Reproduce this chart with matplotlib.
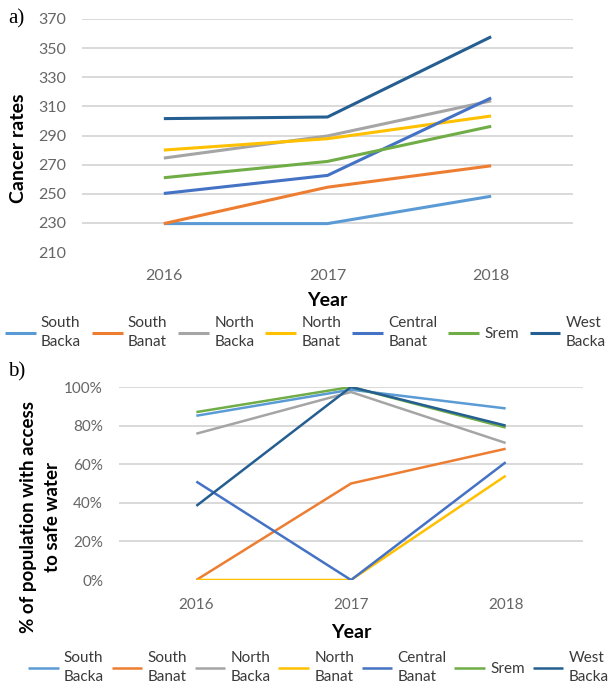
import matplotlib
matplotlib.use("Agg")
import matplotlib.pyplot as plt
import matplotlib.ticker as mticker

plt.rcParams['font.family'] = ['Lato', 'DejaVu Sans']

years = ["2016", "2017", "2018"]
regions = ["South\nBacka", "South\nBanat", "North\nBacka", "North\nBanat",
           "Central\nBanat", "Srem", "West\nBacka"]
colors = ["#5B9BD5", "#ED7D31", "#A5A5A5", "#FFC000", "#4472C4", "#70AD47", "#255E91"]

# Cancer rates per region
cancer_south_backa = [229.5, 229.5, 248.3]
cancer_south_banat = [229.5, 254.5, 269.2]
cancer_north_backa = [274.5, 289.7, 313.8]
cancer_north_banat = [280.0, 287.8, 303.4]
cancer_central_banat = [250.2, 262.6, 315.8]
cancer_srem = [261.0, 272.2, 296.3]
cancer_west_backa = [301.6, 302.7, 357.8]

# Share of population with access to safe water
water_south_backa = [0.851, 0.986, 0.889]
water_south_banat = [0.0, 0.50, 0.68]
water_north_backa = [0.758, 0.974, 0.71]
water_north_banat = [0.0, 0.0, 0.54]
water_central_banat = [0.51, 0.0, 0.61]
water_srem = [0.87, 1.0, 0.79]
water_west_backa = [0.384, 1.0, 0.80]

cancer = [cancer_south_backa, cancer_south_banat, cancer_north_backa, cancer_north_banat,
          cancer_central_banat, cancer_srem, cancer_west_backa]
water = [water_south_backa, water_south_banat, water_north_backa, water_north_banat,
         water_central_banat, water_srem, water_west_backa]

W, H = 611, 688
fig = plt.figure(figsize=(W / 100, H / 100), dpi=100)

def px_axes(x0, x1, ytop, ybot):
    return fig.add_axes([x0 / W, 1 - ybot / H, (x1 - x0) / W, (ybot - ytop) / H])

tick_color = "#666666"
grid_color = "#D9D9D9"
text_color = "#3A3A3A"

def style(ax, xpad, ypad, size):
    for s in ax.spines.values():
        s.set_visible(False)
    ax.tick_params(length=0, labelsize=size, colors=tick_color)
    ax.tick_params(axis='x', pad=xpad)
    ax.tick_params(axis='y', pad=ypad)
    ax.grid(axis='y', color=grid_color, lw=1.4)
    ax.set_axisbelow(True)
    ax.set_xlim(-0.5, 2.5)
    ax.set_xticks(range(len(years)))
    ax.set_xticklabels(years)
    ax.yaxis.get_gridlines()[0].set_visible(False)

def legend(handles, x, y, spacing):
    leg = fig.legend(handles=handles, loc='upper left', bbox_to_anchor=(x / W, 1 - y / H),
                     ncol=7, frameon=False, fontsize=11, handlelength=2.0,
                     handletextpad=0.35, columnspacing=spacing, borderpad=0,
                     borderaxespad=0, labelcolor=text_color)
    for t in leg.get_texts():
        t.set_linespacing(1.45)
    return leg

# a) cancer rates
ax1 = px_axes(82, 573, 19, 252)
lines1 = []
for vals, c, lab in zip(cancer, colors, regions):
    ln, = ax1.plot(range(len(years)), vals, color=c, lw=2.2, label=lab, solid_capstyle='butt')
    lines1.append(ln)
ax1.set_ylim(210, 370)
ax1.set_yticks(range(210, 371, 20))
style(ax1, 12, 11.5, 11.5)

fig.text(19 / W, 1 - 148 / H, "Cancer rates", rotation=90, fontsize=14, fontweight='bold',
         ha='center', va='center')
fig.text(327 / W, 1 - 301 / H, "Year", fontsize=14, fontweight='bold', ha='center', va='center')
fig.text(8 / W, 1 - 19 / H, "a)", fontsize=15, family='Liberation Serif', ha='left', va='center')
legend(lines1, 5, 316, 0.72)

# b) access to safe water
ax2 = px_axes(119, 583, 387, 580)
lines2 = []
for vals, c, lab in zip(water, colors, regions):
    ln, = ax2.plot(range(len(years)), vals, color=c, lw=1.8, label=lab, solid_capstyle='butt')
    lines2.append(ln)
ax2.set_ylim(0, 1)
ax2.set_yticks([0, 0.2, 0.4, 0.6, 0.8, 1.0])
ax2.yaxis.set_major_formatter(mticker.PercentFormatter(1.0, decimals=0))
style(ax2, 13, 11.5, 11)

fig.text(29 / W, 1 - 517 / H, "% of population with access", rotation=90, fontsize=13.5,
         fontweight='bold', ha='center', va='center')
fig.text(53 / W, 1 - 517 / H, "to safe water", rotation=90, fontsize=13.5,
         fontweight='bold', ha='center', va='center')
fig.text(351 / W, 1 - 632 / H, "Year", fontsize=14, fontweight='bold', ha='center', va='center')
fig.text(8 / W, 1 - 372 / H, "b)", fontsize=15, family='Liberation Serif', ha='left', va='center')
legend(lines2, 28, 651, 0.5)

fig.savefig("out.png", dpi=100)
